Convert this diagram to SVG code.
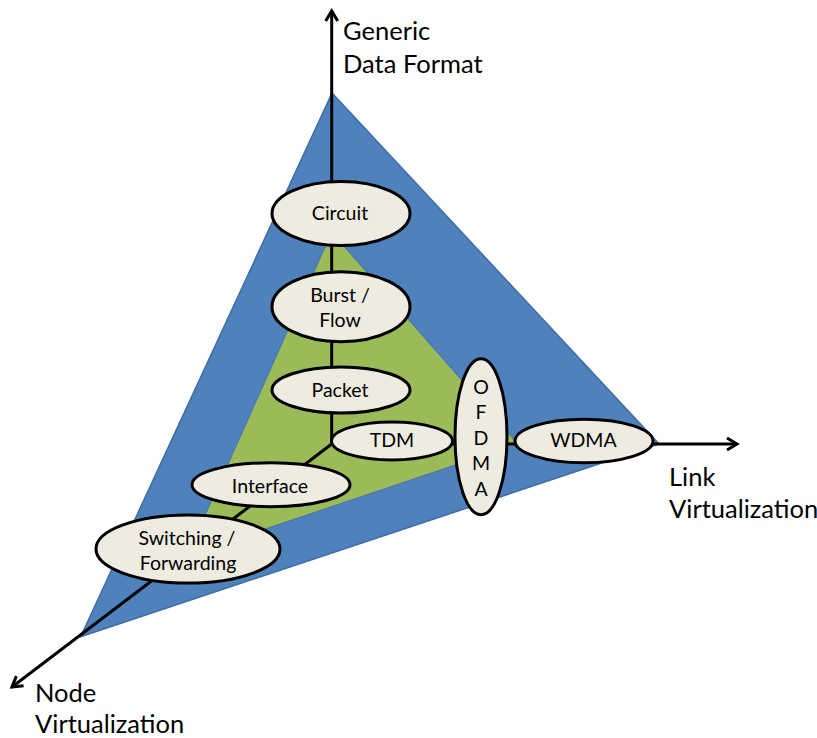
<svg xmlns="http://www.w3.org/2000/svg" width="817" height="738" viewBox="0 0 817 738">
  <style>
    .axis { fill: none; stroke: #000; stroke-width: 3; marker-end: url(#arrow); }
    .node ellipse { fill: #EEECE1; stroke: #000; stroke-width: 3; }
    .node text { font-family: Lato, "Liberation Sans", sans-serif; font-size: 19.5px; fill: #000; text-anchor: middle; }
    .label { font-family: Lato, "Liberation Sans", sans-serif; font-size: 25.5px; fill: #000; }
  </style>
  <defs>
    <marker id="arrow" markerUnits="userSpaceOnUse" markerWidth="20" markerHeight="20" viewBox="-14 -10 20 20" refX="0" refY="0" orient="auto">
      <path d="M -10,-6 L 0,0 L -10,6" fill="none" stroke="#000" stroke-width="3"/>
    </marker>
  </defs>

  <rect width="817" height="738" fill="#fff"/>

  <!-- planes -->
  <polygon id="outer-plane" points="332,93 659,444 80.7,636.7" fill="#4F81BD" stroke="#3F6DA3" stroke-width="1.5"/>
  <polygon id="inner-plane" points="331.7,232 518,444 187,555.4" fill="#9BBB59" stroke="#4A78AE" stroke-width="1.2"/>

  <!-- axes -->
  <g id="connectors">
    <line class="axis" x1="331.7" y1="444" x2="331.7" y2="11"/>
    <line class="axis" x1="331.7" y1="444" x2="737" y2="444"/>
    <line class="axis" x1="331.7" y1="444" x2="12" y2="687"/>
  </g>

  <!-- axis labels -->
  <text class="label" x="343" y="40">Generic</text>
  <text class="label" x="343" y="72.5">Data Format</text>
  <text class="label" x="669" y="486">Link</text>
  <text class="label" x="669" y="518">Virtualization</text>
  <text class="label" x="35" y="702">Node</text>
  <text class="label" x="35" y="733">Virtualization</text>

  <!-- data format nodes -->
  <g id="circuit" class="node">
    <ellipse cx="341" cy="213.5" rx="69" ry="32"/>
    <text x="340" y="219.5">Circuit</text>
  </g>
  <g id="burst-flow" class="node">
    <ellipse cx="341" cy="306.7" rx="69" ry="35"/>
    <text x="340" y="301.7">Burst /</text>
    <text x="340" y="326.7">Flow</text>
  </g>
  <g id="packet" class="node">
    <ellipse cx="341" cy="390" rx="69" ry="23"/>
    <text x="340" y="396.7">Packet</text>
  </g>

  <!-- link nodes -->
  <g id="tdm" class="node">
    <ellipse cx="392" cy="441" rx="60.5" ry="19"/>
    <text x="392" y="447">TDM</text>
  </g>
  <g id="ofdma" class="node">
    <ellipse cx="481" cy="436.7" rx="26" ry="78"/>
    <text x="481" y="394">O</text>
    <text x="481" y="419.3">F</text>
    <text x="481" y="445">D</text>
    <text x="481" y="470">M</text>
    <text x="481" y="495.5">A</text>
  </g>
  <g id="wdma" class="node">
    <ellipse cx="584" cy="441" rx="69" ry="21.7"/>
    <text x="583.5" y="447.3">WDMA</text>
  </g>

  <!-- node nodes -->
  <g id="interface" class="node">
    <ellipse cx="271" cy="484.7" rx="79" ry="22"/>
    <text x="270" y="492.7">Interface</text>
  </g>
  <g id="switching-forwarding" class="node">
    <ellipse cx="188" cy="549" rx="92" ry="34"/>
    <text x="187" y="545">Switching /</text>
    <text x="188" y="570">Forwarding</text>
  </g>
</svg>
